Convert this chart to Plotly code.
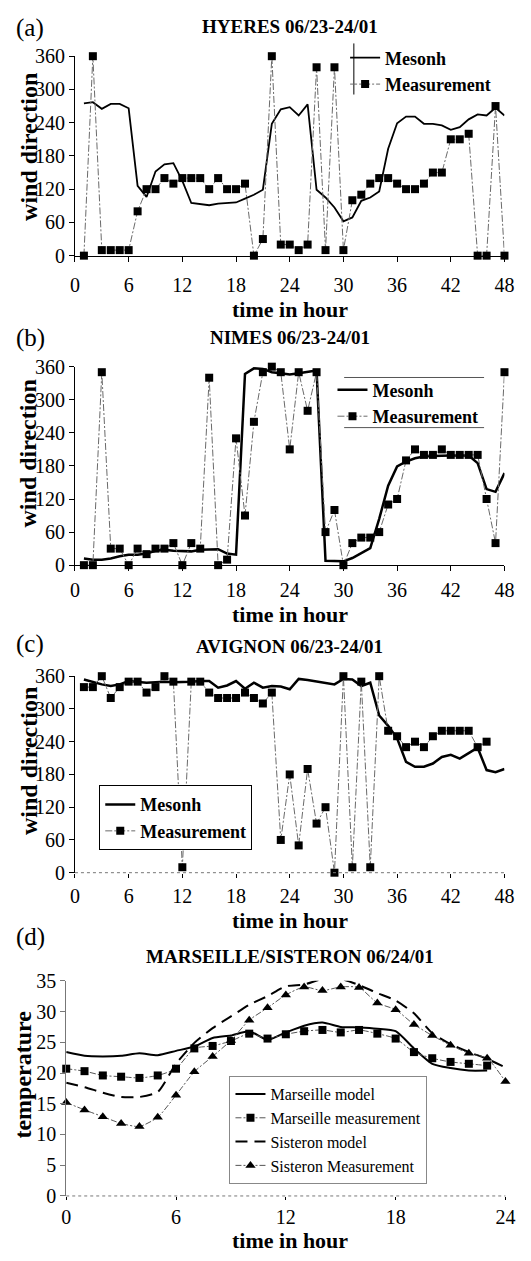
import plotly.graph_objects as go

W, H = 531, 1261

# ---------------- data ----------------
hours48 = list(range(1, 49))

hyeres_model = [275, 277, 265, 274, 274, 266, 126, 106, 152, 165, 167, 135,
                95, 93, 91, 94, 95, 96, 103, 110, 119, 238, 264, 268,
                253, 273, 119, 105, 87, 62, 69, 99, 105, 116, 193, 239,
                251, 251, 238, 238, 235, 227, 232, 246, 255, 253, 267, 253]
hyeres_meas = [0, 360, 10, 10, 10, 10, 80, 120, 120, 140, 130, 140,
               140, 140, 120, 140, 120, 120, 130, 0, 30, 360, 20, 20,
               10, 20, 340, 10, 340, 10, 100, 110, 130, 140, 140, 130,
               120, 120, 130, 150, 150, 210, 210, 220, 0, 0, 270, 0]

nimes_model = [12, 10, 10, 12, 16, 19, 19, 21, 26, 28, 26, 25,
               25, 28, 29, 29, 21, 19, 347, 357, 356, 350, 348, 346,
               348, 351, 353, 8, 8, 7, 13, 22, 31, 84, 144, 179,
               188, 194, 197, 198, 199, 199, 199, 199, 185, 138, 133, 167]
nimes_meas = [0, 0, 350, 30, 30, 0, 30, 20, 30, 30, 40, 0,
              40, 30, 340, 0, 10, 230, 90, 260, 350, 360, 350, 210,
              350, 280, 350, 60, 100, 0, 40, 50, 50, 60, 110, 120,
              190, 210, 200, 200, 210, 200, 200, 200, 200, 120, 40, 350]

avignon_model = [354, 349, 345, 342, 345, 351, 350, 348, 349, 350, 349, 349,
                 350, 351, 351, 339, 343, 351, 337, 348, 339, 342, 341, 336,
                 355, 353, 350, 347, 345, 355, 354, 342, 348, 288, 269, 246,
                 203, 194, 194, 200, 212, 216, 209, 219, 229, 188, 184, 190]
hours46 = list(range(1, 47))
avignon_meas = [340, 340, 360, 320, 340, 350, 350, 330, 340, 360, 350, 10,
                350, 350, 330, 320, 320, 320, 330, 320, 310, 330, 60, 180,
                50, 190, 90, 120, 0, 360, 10, 350, 10, 360, 260, 250,
                230, 240, 230, 250, 260, 260, 260, 260, 230, 240]

hours24 = list(range(0, 25))
marseille_model = [23.4, 22.8, 22.7, 22.8, 23.2, 22.9, 23.6, 24.3, 25.7, 26.1,
                   26.8, 25.4, 26.6, 27.7, 28.2, 27.5, 27.4, 27.2, 26.8, 24.0,
                   21.5, 20.8, 20.4, 20.4]
marseille_meas = [20.7, 20.3, 19.6, 19.4, 19.2, 19.6, 20.7, 24.0, 24.4, 25.2,
                  26.4, 25.6, 26.3, 26.8, 27.0, 26.6, 27.0, 26.4, 25.6, 23.4,
                  22.4, 21.8, 21.5, 21.2]
sisteron_model = [18.4, 17.7, 16.8, 16.1, 16.1, 16.9, 21.5, 24.9, 27.3, 29.2,
                  31.1, 32.5, 34.1, 34.4, 35.3, 35.3, 34.3, 33.0, 31.8, 29.7,
                  26.5, 24.7, 23.4, 22.3, 20.9]
sisteron_meas = [15.2, 14.0, 12.9, 11.8, 11.3, 12.8, 16.4, 20.2, 22.7, 25.3,
                 28.6, 30.6, 32.7, 34.0, 33.4, 34.0, 33.9, 31.4, 30.3, 27.9,
                 26.1, 24.5, 23.2, 22.4, 18.6]

dir_ticks = [0, 60, 120, 180, 240, 300, 360]
hour48_ticks = [0, 6, 12, 18, 24, 30, 36, 42, 48]
temp_ticks = [0, 5, 10, 15, 20, 25, 30, 35]
hour24_ticks = [0, 6, 12, 18, 24]

# ---------------- helpers ----------------
SERIF = "Times New Roman, Liberation Serif, DejaVu Serif, serif"


def px(x):
    return x / W


def py(y):
    return 1 - y / H


meas_line = dict(color="#6a6a6a", width=1, dash="7px,2px,2px,2px")
sq = dict(symbol="square", size=8, color="black")
tri = dict(symbol="triangle-up", size=9, color="black")

fig = go.Figure()

# (a)
fig.add_trace(go.Scatter(x=hours48, y=hyeres_model, mode="lines", name="Mesonh",
                         line=dict(color="black", width=1.8), xaxis="x", yaxis="y",
                         legend="legend", cliponaxis=False))
fig.add_trace(go.Scatter(x=hours48, y=hyeres_meas, mode="lines+markers", name="Measurement",
                         line=meas_line, marker=sq, xaxis="x", yaxis="y",
                         legend="legend", cliponaxis=False))
# (b)
fig.add_trace(go.Scatter(x=hours48, y=nimes_model, mode="lines", name="Mesonh",
                         line=dict(color="black", width=2.5), xaxis="x2", yaxis="y2",
                         legend="legend2", cliponaxis=False))
fig.add_trace(go.Scatter(x=hours48, y=nimes_meas, mode="lines+markers", name="Measurement",
                         line=meas_line, marker=sq, xaxis="x2", yaxis="y2",
                         legend="legend2", cliponaxis=False))
# (c)
fig.add_trace(go.Scatter(x=hours48, y=avignon_model, mode="lines", name="Mesonh",
                         line=dict(color="black", width=2.5), xaxis="x3", yaxis="y3",
                         legend="legend3", cliponaxis=False))
fig.add_trace(go.Scatter(x=hours46, y=avignon_meas, mode="lines+markers", name="Measurement",
                         line=meas_line, marker=sq, xaxis="x3", yaxis="y3",
                         legend="legend3", cliponaxis=False))
# (d)
fig.add_trace(go.Scatter(x=hours24[:len(marseille_model)], y=marseille_model, mode="lines",
                         name="Marseille model",
                         line=dict(color="black", width=2, shape="spline", smoothing=0.6),
                         xaxis="x4", yaxis="y4", legend="legend4", cliponaxis=False))
fig.add_trace(go.Scatter(x=hours24[:len(marseille_meas)], y=marseille_meas, mode="lines+markers",
                         name="Marseille measurement",
                         line=dict(color="#555", width=1, dash="6px,2px,2px,2px", shape="spline", smoothing=0.6),
                         marker=sq, xaxis="x4", yaxis="y4", legend="legend4", cliponaxis=False))
fig.add_trace(go.Scatter(x=hours24, y=sisteron_model, mode="lines", name="Sisteron model",
                         line=dict(color="black", width=2, dash="12px,7px", shape="spline", smoothing=0.6),
                         xaxis="x4", yaxis="y4", legend="legend4", cliponaxis=False))
fig.add_trace(go.Scatter(x=hours24, y=sisteron_meas, mode="lines+markers", name="Sisteron Measurement",
                         line=dict(color="#555", width=1, dash="6px,2px,2px,2px", shape="spline", smoothing=0.6),
                         marker=tri, xaxis="x4", yaxis="y4", legend="legend4", cliponaxis=False))

tickfont = dict(family=SERIF, size=20, color="black")


def xax(l, r, anchor, rng, ticks, line=True, standoff=0, ticklen=5):
    return dict(domain=[px(l), px(r)], range=rng, tickvals=ticks, anchor=anchor,
                showline=line, linecolor="black", linewidth=1,
                ticks="outside", ticklen=ticklen, tickcolor="black", tickfont=tickfont,
                ticklabelstandoff=standoff,
                showgrid=False, zeroline=False, fixedrange=True)


def yax(t, b, anchor, rng, ticks, color="black"):
    return dict(domain=[py(b), py(t)], range=rng, tickvals=ticks, anchor=anchor,
                showline=True, linecolor=color, linewidth=1,
                ticks="outside", ticklen=5, tickcolor=color, tickfont=tickfont,
                showgrid=False, zeroline=False, fixedrange=True)


legfont_b = dict(family=SERIF, size=18, color="black", weight="bold")

fig.update_layout(
    width=W, height=H, margin=dict(l=0, r=0, t=0, b=0),
    paper_bgcolor="white", plot_bgcolor="white",
    font=dict(family=SERIF, color="black"),
    xaxis=xax(72, 514, "y", [0, 48], hour48_ticks, standoff=6),
    yaxis=yax(46, 249, "x", [0, 360], dir_ticks),
    xaxis2=xax(72, 514, "y2", [0, 48], hour48_ticks, standoff=2),
    yaxis2=yax(362, 564, "x2", [0, 360], dir_ticks),
    xaxis3=xax(72, 514, "y3", [0, 48], hour48_ticks, line=False, standoff=1, ticklen=4),
    yaxis3=yax(677, 877, "x3", [0, 360], dir_ticks),
    xaxis4=xax(63, 515, "y4", [0, 24], hour24_ticks, line=False, standoff=0, ticklen=3),
    yaxis4=yax(987, 1206, "x4", [0, 35], temp_ticks, color="#777"),
    legend=dict(x=px(350), y=py(29), xanchor="left", yanchor="top",
                bgcolor="rgba(0,0,0,0)", borderwidth=0, itemwidth=30,
                font=legfont_b),
    legend2=dict(x=px(337), y=py(367), xanchor="left", yanchor="top",
                 bgcolor="rgba(0,0,0,0)", borderwidth=0, itemwidth=30,
                 font=legfont_b),
    legend3=dict(x=px(97), y=py(788), xanchor="left", yanchor="top",
                 bgcolor="white", bordercolor="black", borderwidth=1, itemwidth=30,
                 font=legfont_b),
    legend4=dict(x=px(231), y=py(1084), xanchor="left", yanchor="top",
                 bgcolor="white", bordercolor="#888", borderwidth=1, itemwidth=30,
                 font=dict(family=SERIF, size=16, color="black")),
    showlegend=True,
)

shapes = [
    # (a) legend left rule
    dict(type="line", xref="paper", yref="paper", x0=px(359), x1=px(359), y0=py(33), y1=py(85),
         line=dict(color="black", width=1)),
    # (b) legend rules
    dict(type="line", xref="paper", yref="paper", x0=px(349), x1=px(493), y0=py(373), y1=py(373),
         line=dict(color="#555", width=1)),
    dict(type="line", xref="paper", yref="paper", x0=px(349), x1=px(493), y0=py(424), y1=py(424),
         line=dict(color="#555", width=1)),
    # dotted bottom axes (c), (d)
    dict(type="line", xref="x3 domain", yref="y3 domain", x0=0, x1=1, y0=0, y1=0,
         line=dict(color="#777", width=1, dash="dot")),
    dict(type="line", xref="x4 domain", yref="y4 domain", x0=0, x1=1, y0=0, y1=0,
         line=dict(color="#777", width=1, dash="dot")),
]
fig.update_layout(shapes=shapes)

ann = []


def label(x, y, text, size, bold=False, angle=0):
    ann.append(dict(x=px(x), y=py(y), xref="paper", yref="paper", text=text, showarrow=False,
                    xanchor="center", yanchor="middle", textangle=angle,
                    font=dict(family=SERIF, size=size, color="black",
                              weight="bold" if bold else "normal")))


panel_meta = [
    ("(a)", 17, "HYERES 06/23-24/01", 16, 304, "wind direction", 24, 138),
    ("(b)", 333, "NIMES 06/23-24/01", 332, 614, "wind direction", 24, 450),
    ("(c)", 644, "AVIGNON 06/23-24/01", 647, 926, "wind direction", 24, 763),
    ("(d)", 942, "MARSEILLE/SISTERON 06/24/01", 962, 1251, "temperature", 19, 1082),
]
for tag, ty, title, tty, xty, ytitle, ytx, yty in panel_meta:
    label(26, ty, tag, 25)
    label(293, tty, title, 19, bold=True)
    label(293, xty, "time in hour", 22, bold=True)
    label(ytx, yty, ytitle, 24, bold=True, angle=-90)

fig.update_layout(annotations=ann)

fig.write_html("out.html")
